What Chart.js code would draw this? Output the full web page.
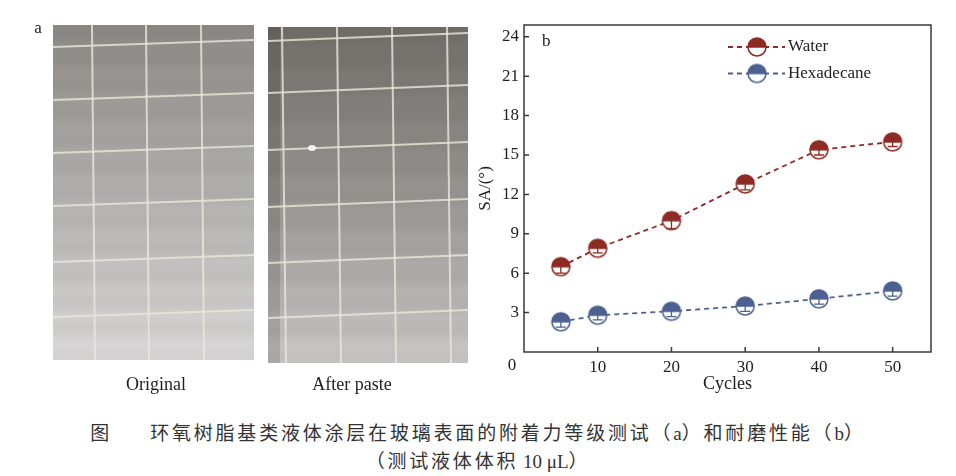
<!DOCTYPE html>
<html>
<head>
<meta charset="utf-8">
<script src="https://cdn.jsdelivr.net/npm/chart.js@4.4.1/dist/chart.umd.min.js"></script>
<style>
  body { margin: 0; background: #fff; width: 956px; height: 476px; overflow: hidden; position: relative;
         font-family: "Liberation Serif", "Noto Sans CJK SC", serif; color: #222; }
  #photos { position: absolute; left: 0; top: 0; }
  #chartBox { position: absolute; left: 470px; top: 0; width: 480px; height: 405px; }
  .lbl { position: absolute; font-size: 18px; transform: translateX(-50%); white-space: nowrap; }
  #caption { position: absolute; left: 0; top: 420px; width: 956px; text-align: center;
             font-size: 19px; letter-spacing: 2.8px; line-height: 27.5px; color: #333; }
  #caption .lat { letter-spacing: 0; }
</style>
</head>
<body>
<canvas id="photos" width="470" height="400"></canvas>
<div class="lbl" style="left:38px; top:18px; font-size:17px;">a</div>
<div class="lbl" style="left:156px; top:374px;">Original</div>
<div class="lbl" style="left:352px; top:374px;">After paste</div>
<div id="chartBox"><canvas id="saChart"></canvas></div>
<div id="caption">
  <div><span style="margin-right:38px;">图</span>环氧树脂基类液体涂层在玻璃表面的附着力等级测试（<span class="lat">a</span>）和耐磨性能（<span class="lat">b</span>）</div>
  <div>（测试液体体积<span class="lat"> 10 μL</span>）</div>
</div>

<script>
// Data
const cycles = [5, 10, 20, 30, 40, 50];
const waterSA = [6.5, 7.9, 10.0, 12.8, 15.4, 16.0];
const waterErr = [0.5, 0.35, 0.6, 0.45, 0.4, 0.35];
const hexSA = [2.3, 2.8, 3.1, 3.5, 4.05, 4.65];
const hexErr = [0.4, 0.35, 0.4, 0.4, 0.4, 0.4];
const yTicks = [3, 6, 9, 12, 15, 18, 21, 24];
const xTicks = [10, 20, 30, 40, 50];

const waterColor = '#8e2b25';
const hexColor = '#4c6190';

// ---- panel a: the two photographs, sketched on a plain canvas ----
function drawPhoto(ctx, p) {
  const g = ctx.createLinearGradient(0, p.y, 0, p.y + p.h);
  g.addColorStop(0, p.top);
  g.addColorStop(0.5, p.mid);
  g.addColorStop(1, p.bottom);
  ctx.fillStyle = g;
  ctx.fillRect(p.x, p.y, p.w, p.h);

  // soft horizontal banding of the coating
  for (let r = 0; r < p.h; r++) {
    const a = 0.045 * (0.5 + 0.5 * Math.sin(2 * Math.PI * r / 27));
    ctx.fillStyle = 'rgba(50,45,40,' + a.toFixed(3) + ')';
    ctx.fillRect(p.x, p.y + r, p.w, 1);
  }

  if (p.strip) {
    ctx.fillStyle = 'rgba(40,35,30,0.16)';
    ctx.fillRect(p.x, p.y, p.strip, p.h);
  }

  // paper grid seen through the glass
  ctx.strokeStyle = 'rgba(232,232,218,0.8)';
  ctx.lineWidth = 2;
  p.vLines.forEach(vx => {
    ctx.beginPath();
    ctx.moveTo(p.x + vx, p.y);
    ctx.lineTo(p.x + vx + p.lean, p.y + p.h);
    ctx.stroke();
  });
  p.hLines.forEach(hy => {
    ctx.beginPath();
    ctx.moveTo(p.x, p.y + hy);
    ctx.lineTo(p.x + p.w, p.y + hy + p.tilt);
    ctx.stroke();
  });
}

const pctx = document.getElementById('photos').getContext('2d');
drawPhoto(pctx, { x: 53, y: 25, w: 201, h: 335, top: '#8c8985', mid: '#b3b1af', bottom: '#dbd9d9',
  vLines: [39, 93, 148], lean: 3, hLines: [22, 75, 128, 181, 237, 292], tilt: -7 });
drawPhoto(pctx, { x: 268, y: 27, w: 200, h: 336, top: '#716d69', mid: '#989592', bottom: '#cac8c8',
  vLines: [14, 69, 124, 179], lean: 4, hLines: [14, 66, 123, 180, 236, 291], tilt: -8, strip: 12 });
pctx.fillStyle = 'rgba(250,250,250,0.9)';
pctx.beginPath();
pctx.ellipse(312, 148, 4, 3, 0, 0, Math.PI * 2);
pctx.fill();

// ---- panel b markers: half-filled circles ----
function halfCircle(color) {
  const c = document.createElement('canvas');
  c.width = 22; c.height = 22;
  const x = c.getContext('2d');
  const r = 9;
  x.fillStyle = '#fff';
  x.beginPath(); x.arc(11, 11, r, 0, Math.PI * 2); x.fill();
  x.fillStyle = color;
  x.beginPath(); x.arc(11, 11, r, Math.PI, Math.PI * 2); x.closePath(); x.fill();
  x.strokeStyle = color;
  x.lineWidth = 1.5;
  x.beginPath(); x.arc(11, 11, r, 0, Math.PI * 2); x.stroke();
  x.beginPath(); x.moveTo(2, 11); x.lineTo(20, 11); x.stroke();
  return c;
}
const waterMarker = halfCircle(waterColor);
const hexMarker = halfCircle(hexColor);

const serif = '"Liberation Serif", "Times New Roman", serif';

// error bars, frame, inward ticks, panel letter, origin label and legend
const decor = {
  id: 'decor',
  afterDatasetsDraw(chart) {
    const { ctx, scales: { x, y } } = chart;
    chart.data.datasets.forEach(ds => {
      ctx.save();
      ctx.strokeStyle = ds.borderColor;
      ctx.lineWidth = 1.3;
      ds.data.forEach((pt, i) => {
        const px = x.getPixelForValue(pt.x);
        const y1 = y.getPixelForValue(pt.y + ds.err[i]);
        const y2 = y.getPixelForValue(pt.y - ds.err[i]);
        ctx.beginPath();
        ctx.moveTo(px, y1); ctx.lineTo(px, y2);
        ctx.moveTo(px - 5, y1); ctx.lineTo(px + 5, y1);
        ctx.moveTo(px - 5, y2); ctx.lineTo(px + 5, y2);
        ctx.stroke();
      });
      ctx.restore();
    });
  },
  afterDraw(chart) {
    const { ctx, chartArea: a, scales: { x, y } } = chart;
    ctx.save();
    ctx.strokeStyle = '#3a3a3a';
    ctx.lineWidth = 1.5;
    ctx.strokeRect(a.left, a.top, a.right - a.left, a.bottom - a.top);
    ctx.beginPath();
    yTicks.forEach(v => {
      const py = y.getPixelForValue(v);
      ctx.moveTo(a.left, py); ctx.lineTo(a.left + 5, py);
    });
    xTicks.forEach(v => {
      const px = x.getPixelForValue(v);
      ctx.moveTo(px, a.bottom); ctx.lineTo(px, a.bottom - 5);
    });
    ctx.stroke();

    ctx.fillStyle = '#222';
    ctx.font = '17px ' + serif;
    ctx.textBaseline = 'middle';
    ctx.textAlign = 'left';
    ctx.fillText('b', a.left + 18, a.top + 17);
    ctx.textAlign = 'center';
    ctx.fillText('0', a.left - 12, a.bottom + 14);

    // legend
    const lx = a.right - 203;
    chart.data.datasets.forEach((ds, i) => {
      const ly = a.top + 22 + i * 26.5;
      ctx.strokeStyle = ds.borderColor;
      ctx.lineWidth = 1.8;
      ctx.setLineDash([5, 4]);
      ctx.beginPath(); ctx.moveTo(lx, ly); ctx.lineTo(lx + 57, ly); ctx.stroke();
      ctx.setLineDash([]);
      ctx.drawImage(ds.pointStyle, lx + 29 - 11, ly - 11);
      ctx.fillStyle = '#222';
      ctx.textAlign = 'left';
      ctx.fillText(ds.label, lx + 60, ly);
    });
    ctx.restore();
  }
};

new Chart(document.getElementById('saChart'), {
  type: 'line',
  data: {
    datasets: [
      {
        label: 'Water',
        data: cycles.map((c, i) => ({ x: c, y: waterSA[i] })),
        err: waterErr,
        borderColor: waterColor,
        borderWidth: 1.8,
        borderDash: [5, 4],
        pointStyle: waterMarker,
        pointRadius: 9
      },
      {
        label: 'Hexadecane',
        data: cycles.map((c, i) => ({ x: c, y: hexSA[i] })),
        err: hexErr,
        borderColor: hexColor,
        borderWidth: 1.8,
        borderDash: [5, 4],
        pointStyle: hexMarker,
        pointRadius: 9
      }
    ]
  },
  options: {
    responsive: true,
    maintainAspectRatio: false,
    animation: false,
    events: [],
    layout: { padding: { top: 25, right: 19, left: 0, bottom: 0 } },
    plugins: { legend: { display: false }, tooltip: { enabled: false } },
    scales: {
      x: {
        type: 'linear',
        min: 0,
        max: 55.2,
        afterBuildTicks: s => { s.ticks = xTicks.map(v => ({ value: v })); },
        afterFit: s => { s.height = 53; },
        grid: { display: false, drawTicks: false },
        border: { display: false },
        ticks: { padding: 5, color: '#222', font: { family: serif, size: 17 } },
        title: { display: true, text: 'Cycles', color: '#222', padding: { top: 0, bottom: 10 },
                 font: { family: serif, size: 18 } }
      },
      y: {
        min: 0,
        max: 24.9,
        afterBuildTicks: s => { s.ticks = yTicks.map(v => ({ value: v })); },
        afterFit: s => { s.width = 54; },
        grid: { display: false, drawTicks: false },
        border: { display: false },
        ticks: { padding: 5, color: '#222', font: { family: serif, size: 17 } },
        title: { display: true, text: 'SA/(°)', color: '#222', padding: { top: 5, bottom: 0 },
                 font: { family: serif, size: 17 } }
      }
    }
  },
  plugins: [decor]
});
</script>
</body>
</html>
